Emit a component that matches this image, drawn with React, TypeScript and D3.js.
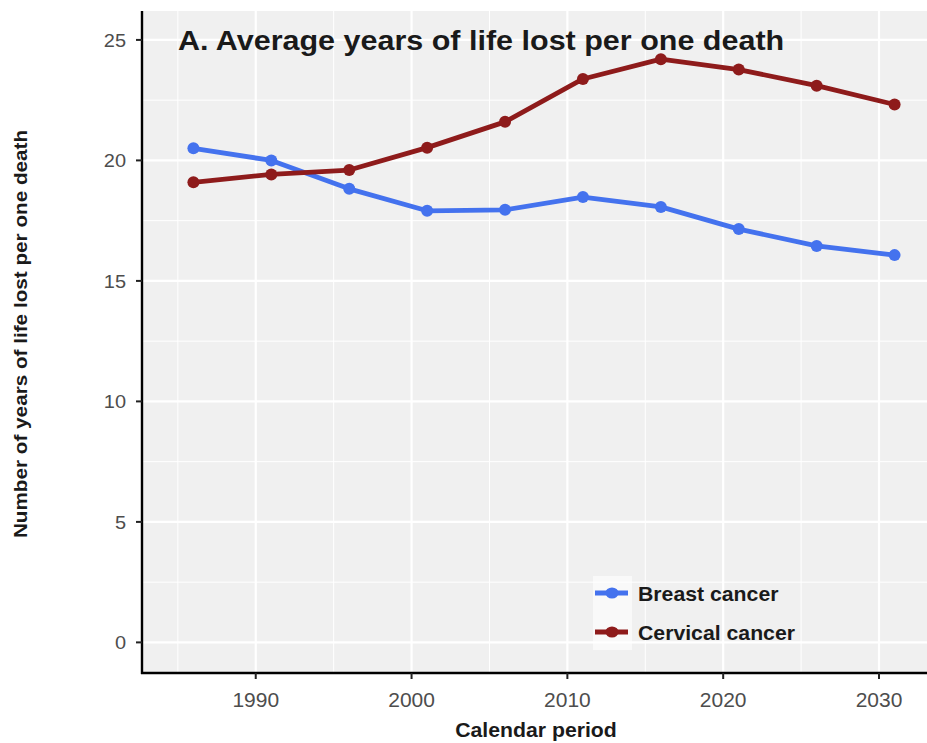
import React from "react";
import * as d3 from "d3";

const years = [1986, 1991, 1996, 2001, 2006, 2011, 2016, 2021, 2026, 2031];
const breast = [20.5, 20.0, 18.82, 17.91, 17.95, 18.48, 18.07, 17.15, 16.45, 16.07];
const cervical = [19.09, 19.42, 19.6, 20.53, 21.6, 23.38, 24.2, 23.77, 23.1, 22.32];
const xTicks = [1990, 2000, 2010, 2020, 2030];
const xMinor = [1985, 1995, 2005, 2015, 2025];
const yTicks = [0, 5, 10, 15, 20, 25];
const yMinor = [2.5, 7.5, 12.5, 17.5, 22.5];
const seriesNames = ["Breast cancer", "Cervical cancer"];
const colors = ["#4472EE", "#8E1B1B"];
const title = "A. Average years of life lost per one death";
const xTitle = "Calendar period";
const yTitle = "Number of years of life lost per one death";

const SX = 1.09;

function T(props: {
  x: number; y: number; size: number; anchor?: string; bold?: boolean; fill?: string;
  rotate?: number; dy?: string; sx?: number; children: React.ReactNode;
}) {
  const { x, y, size, anchor = "start", bold, fill = "#1a1a1a", rotate = 0, dy, sx = SX } = props;
  return (
    <text
      transform={`translate(${x},${y}) rotate(${rotate}) scale(${sx},1)`}
      textAnchor={anchor}
      fontSize={size}
      fontWeight={bold ? "bold" : "normal"}
      fill={fill}
      dy={dy}
    >
      {props.children}
    </text>
  );
}

export default function App() {
  const W = 927, H = 743;
  const left = 142, right = 946, top = 11, bottom = 673;
  const x = d3.scaleLinear().domain([1982.7, 2034.3]).range([left, right]);
  const y = d3.scaleLinear().domain([-1.27, 26.2]).range([bottom, top]);
  const line = d3.line<number>().x((_, i) => x(years[i])).y((d) => y(d));
  const series = [breast, cervical];
  const font = "Liberation Sans, Arial, sans-serif";
  return (
    <svg width={W} height={H} style={{ position: "absolute", left: 0, top: 0, background: "#fff" }} fontFamily={font}>
      <defs>
        <clipPath id="panel"><rect x={left} y={top} width={right - left} height={bottom - top} /></clipPath>
      </defs>
      <rect x={left} y={top} width={right - left} height={bottom - top} fill="#F0F0F0" />
      {yMinor.map((v) => (
        <line key={"ym" + v} x1={left} x2={right} y1={y(v)} y2={y(v)} stroke="#fff" strokeWidth={1} />
      ))}
      {xMinor.map((v) => (
        <line key={"xm" + v} x1={x(v)} x2={x(v)} y1={top} y2={bottom} stroke="#fff" strokeWidth={1} />
      ))}
      {yTicks.map((v) => (
        <line key={"yM" + v} x1={left} x2={right} y1={y(v)} y2={y(v)} stroke="#fff" strokeWidth={2.2} />
      ))}
      {xTicks.map((v) => (
        <line key={"xM" + v} x1={x(v)} x2={x(v)} y1={top} y2={bottom} stroke="#fff" strokeWidth={2.2} />
      ))}
      <g clipPath="url(#panel)">
        {series.map((s, k) => (
          <g key={k}>
            <path d={line(s) || ""} fill="none" stroke={colors[k]} strokeWidth={4.8} strokeLinejoin="round" />
            {s.map((v, i) => (
              <circle key={i} cx={x(years[i])} cy={y(v)} r={6} fill={colors[k]} />
            ))}
          </g>
        ))}
      </g>
      <T x={178} y={50} size={27} bold sx={1.13}>{title}</T>
      {/* legend */}
      <rect x={593} y={576} width={39} height={74} fill="#fff" opacity={0.6} />
      {seriesNames.map((n, k) => {
        const ly = 593 + k * 39;
        return (
          <g key={n}>
            <line x1={595} x2={628} y1={ly} y2={ly} stroke={colors[k]} strokeWidth={4.8} />
            <ellipse cx={612} cy={ly} rx={6.5} ry={5.5} fill={colors[k]} />
            <T x={638} y={ly + 7.5} size={19.5} bold>{n}</T>
          </g>
        );
      })}
      {/* axes */}
      <line x1={left} x2={left} y1={top} y2={bottom + 1} stroke="#000" strokeWidth={2.4} />
      <line x1={left - 1} x2={W} y1={bottom} y2={bottom} stroke="#000" strokeWidth={2.4} />
      {yTicks.map((v) => (
        <g key={"yt" + v}>
          <line x1={left - 6} x2={left} y1={y(v)} y2={y(v)} stroke="#222" strokeWidth={2} />
          <T x={left - 16} y={y(v)} dy="0.36em" anchor="end" size={19} fill="#4D4D4D" sx={1.05}>{v}</T>
        </g>
      ))}
      {xTicks.map((v) => (
        <g key={"xt" + v}>
          <line x1={x(v)} x2={x(v)} y1={bottom} y2={bottom + 6} stroke="#222" strokeWidth={2} />
          <T x={x(v)} y={707} anchor="middle" size={20} fill="#4D4D4D" sx={1.05}>{v}</T>
        </g>
      ))}
      <T x={536} y={736.5} anchor="middle" size={19.5} bold>{xTitle}</T>
      <T x={27} y={334} anchor="middle" size={19} bold rotate={-90}>{yTitle}</T>
    </svg>
  );
}
